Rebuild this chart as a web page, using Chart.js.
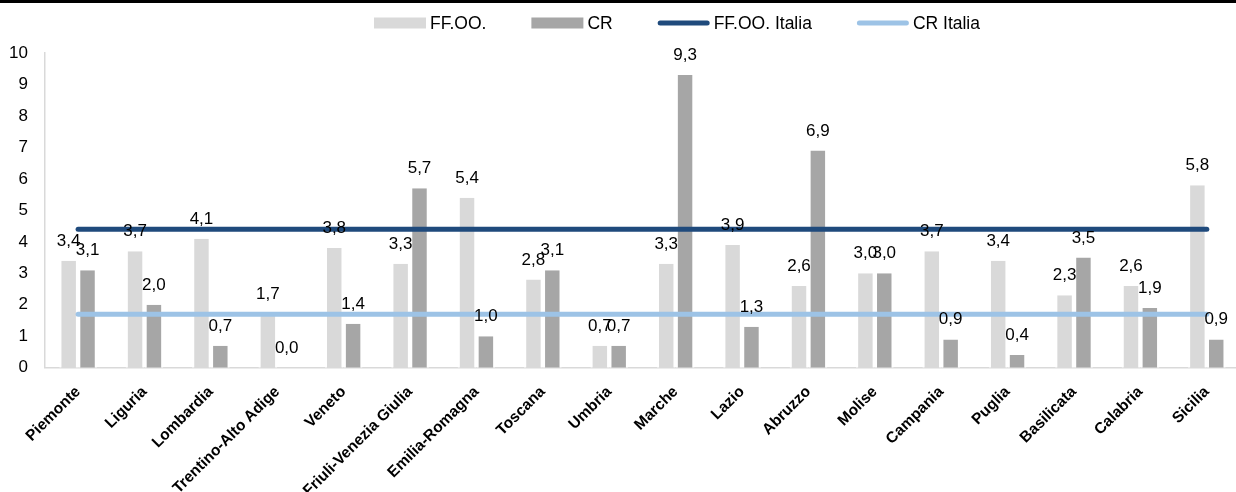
<!DOCTYPE html>
<html>
<head>
<meta charset="utf-8">
<script src="https://cdn.jsdelivr.net/npm/chart.js@4.4.1/dist/chart.umd.min.js"></script>
<style>
  html, body { margin: 0; padding: 0; background: #fff; overflow: hidden; }
  #wrap { position: relative; width: 1240px; height: 492px; }
</style>
</head>
<body>
<div id="wrap"><canvas id="chart"></canvas></div>
<script>
'use strict';

const REGIONS = ['Piemonte', 'Liguria', 'Lombardia', 'Trentino-Alto Adige', 'Veneto', 'Friuli-Venezia Giulia',
  'Emilia-Romagna', 'Toscana', 'Umbria', 'Marche', 'Lazio', 'Abruzzo', 'Molise', 'Campania', 'Puglia',
  'Basilicata', 'Calabria', 'Sicilia'];
const FFOO = [3.4, 3.7, 4.1, 1.7, 3.8, 3.3, 5.4, 2.8, 0.7, 3.3, 3.9, 2.6, 3.0, 3.7, 3.4, 2.3, 2.6, 5.8];
const CR = [3.1, 2.0, 0.7, 0.0, 1.4, 5.7, 1.0, 3.1, 0.7, 9.3, 1.3, 6.9, 3.0, 0.9, 0.4, 3.5, 1.9, 0.9];
const FFOO_ITALIA = 4.4;
const CR_ITALIA = 1.7;

const FONT = '"Liberation Sans", Arial, sans-serif';
const COLORS = { ffoo: '#d9d9d9', cr: '#a6a6a6', ffooIt: '#1f4a7c', crIt: '#9dc3e6' };

const fmt = v => v.toFixed(1).replace('.', ',');

// thick black rule along the top edge
const topRule = {
  id: 'topRule',
  beforeDraw(chart) {
    const ctx = chart.ctx;
    ctx.save();
    ctx.fillStyle = '#000';
    ctx.fillRect(0, 0, chart.width, 3);
    ctx.restore();
  },
};

// value labels above the bars
const barLabels = {
  id: 'barLabels',
  afterDatasetsDraw(chart) {
    const ctx = chart.ctx;
    ctx.save();
    ctx.font = '17px ' + FONT;
    ctx.fillStyle = '#000';
    ctx.textAlign = 'center';
    ctx.textBaseline = 'alphabetic';
    chart.data.datasets.forEach((ds, i) => {
      if (ds.type !== 'bar') return;
      chart.getDatasetMeta(i).data.forEach((bar, j) => {
        ctx.fillText(fmt(ds.data[j]), bar.x, bar.y - 15);
      });
    });
    ctx.restore();
  },
};

// legend row drawn by hand: Excel places it off-centre with wide swatches
const LEGEND = { left: 374, y: 23, swatch: 52, gap: 4, itemGap: 45, font: 17.5 };
const excelLegend = {
  id: 'excelLegend',
  afterDraw(chart) {
    const ctx = chart.ctx;
    ctx.save();
    ctx.font = LEGEND.font + 'px ' + FONT;
    ctx.textBaseline = 'middle';
    ctx.textAlign = 'left';
    let x = LEGEND.left;
    chart.data.datasets.forEach(ds => {
      if (ds.type === 'line') {
        ctx.strokeStyle = ds.borderColor;
        ctx.lineWidth = 5;
        ctx.lineCap = 'round';
        ctx.beginPath();
        ctx.moveTo(x + 2.5, LEGEND.y);
        ctx.lineTo(x + LEGEND.swatch - 2.5, LEGEND.y);
        ctx.stroke();
      } else {
        ctx.fillStyle = ds.backgroundColor;
        ctx.fillRect(x, LEGEND.y - 5.5, LEGEND.swatch, 11);
      }
      x += LEGEND.swatch + LEGEND.gap;
      ctx.fillStyle = '#000';
      ctx.fillText(ds.label, x, LEGEND.y + 1);
      x += ctx.measureText(ds.label).width + LEGEND.itemGap;
    });
    ctx.restore();
  },
};

const chart = new Chart(document.getElementById('chart'), {
  data: {
    labels: REGIONS,
    datasets: [
      {
        type: 'bar', label: 'FF.OO.', data: FFOO, order: 2,
        backgroundColor: COLORS.ffoo, borderColor: '#fff',
        borderWidth: { left: 2.2, right: 2.2, top: 0, bottom: 0 },
        categoryPercentage: 0.568, barPercentage: 1,
      },
      {
        type: 'bar', label: 'CR', data: CR, order: 2,
        backgroundColor: COLORS.cr, borderColor: '#fff',
        borderWidth: { left: 2.2, right: 2.2, top: 0, bottom: 0 },
        categoryPercentage: 0.568, barPercentage: 1,
      },
      {
        type: 'line', label: 'FF.OO. Italia', data: REGIONS.map(() => FFOO_ITALIA), order: 1,
        borderColor: COLORS.ffooIt, backgroundColor: COLORS.ffooIt,
        borderWidth: 5, borderCapStyle: 'round', pointRadius: 0, fill: false,
      },
      {
        type: 'line', label: 'CR Italia', data: REGIONS.map(() => CR_ITALIA), order: 1,
        borderColor: COLORS.crIt, backgroundColor: COLORS.crIt,
        borderWidth: 5, borderCapStyle: 'round', pointRadius: 0, fill: false,
      },
    ],
  },
  options: {
    responsive: true,
    maintainAspectRatio: false,
    animation: false,
    layout: { padding: { left: 0, top: 53, right: 0, bottom: -15 } },
    plugins: {
      tooltip: { enabled: false },
      legend: { display: false },
    },
    scales: {
      x: {
        grid: { display: false },
        border: { color: '#d9d9d9', width: 1.5 },
        ticks: {
          font: { family: FONT, size: 15.5, weight: 'bold' },
          color: '#000',
          autoSkip: false,
          minRotation: 45,
          maxRotation: 45,
          padding: 7,
        },
      },
      y: {
        min: 0,
        max: 10,
        grid: { display: false },
        border: { color: '#d9d9d9', width: 1.5 },
        ticks: {
          stepSize: 1,
          font: { family: FONT, size: 17 },
          color: '#000',
          padding: 9,
        },
      },
    },
  },
  plugins: [topRule, barLabels, excelLegend],
});
</script>
</body>
</html>
